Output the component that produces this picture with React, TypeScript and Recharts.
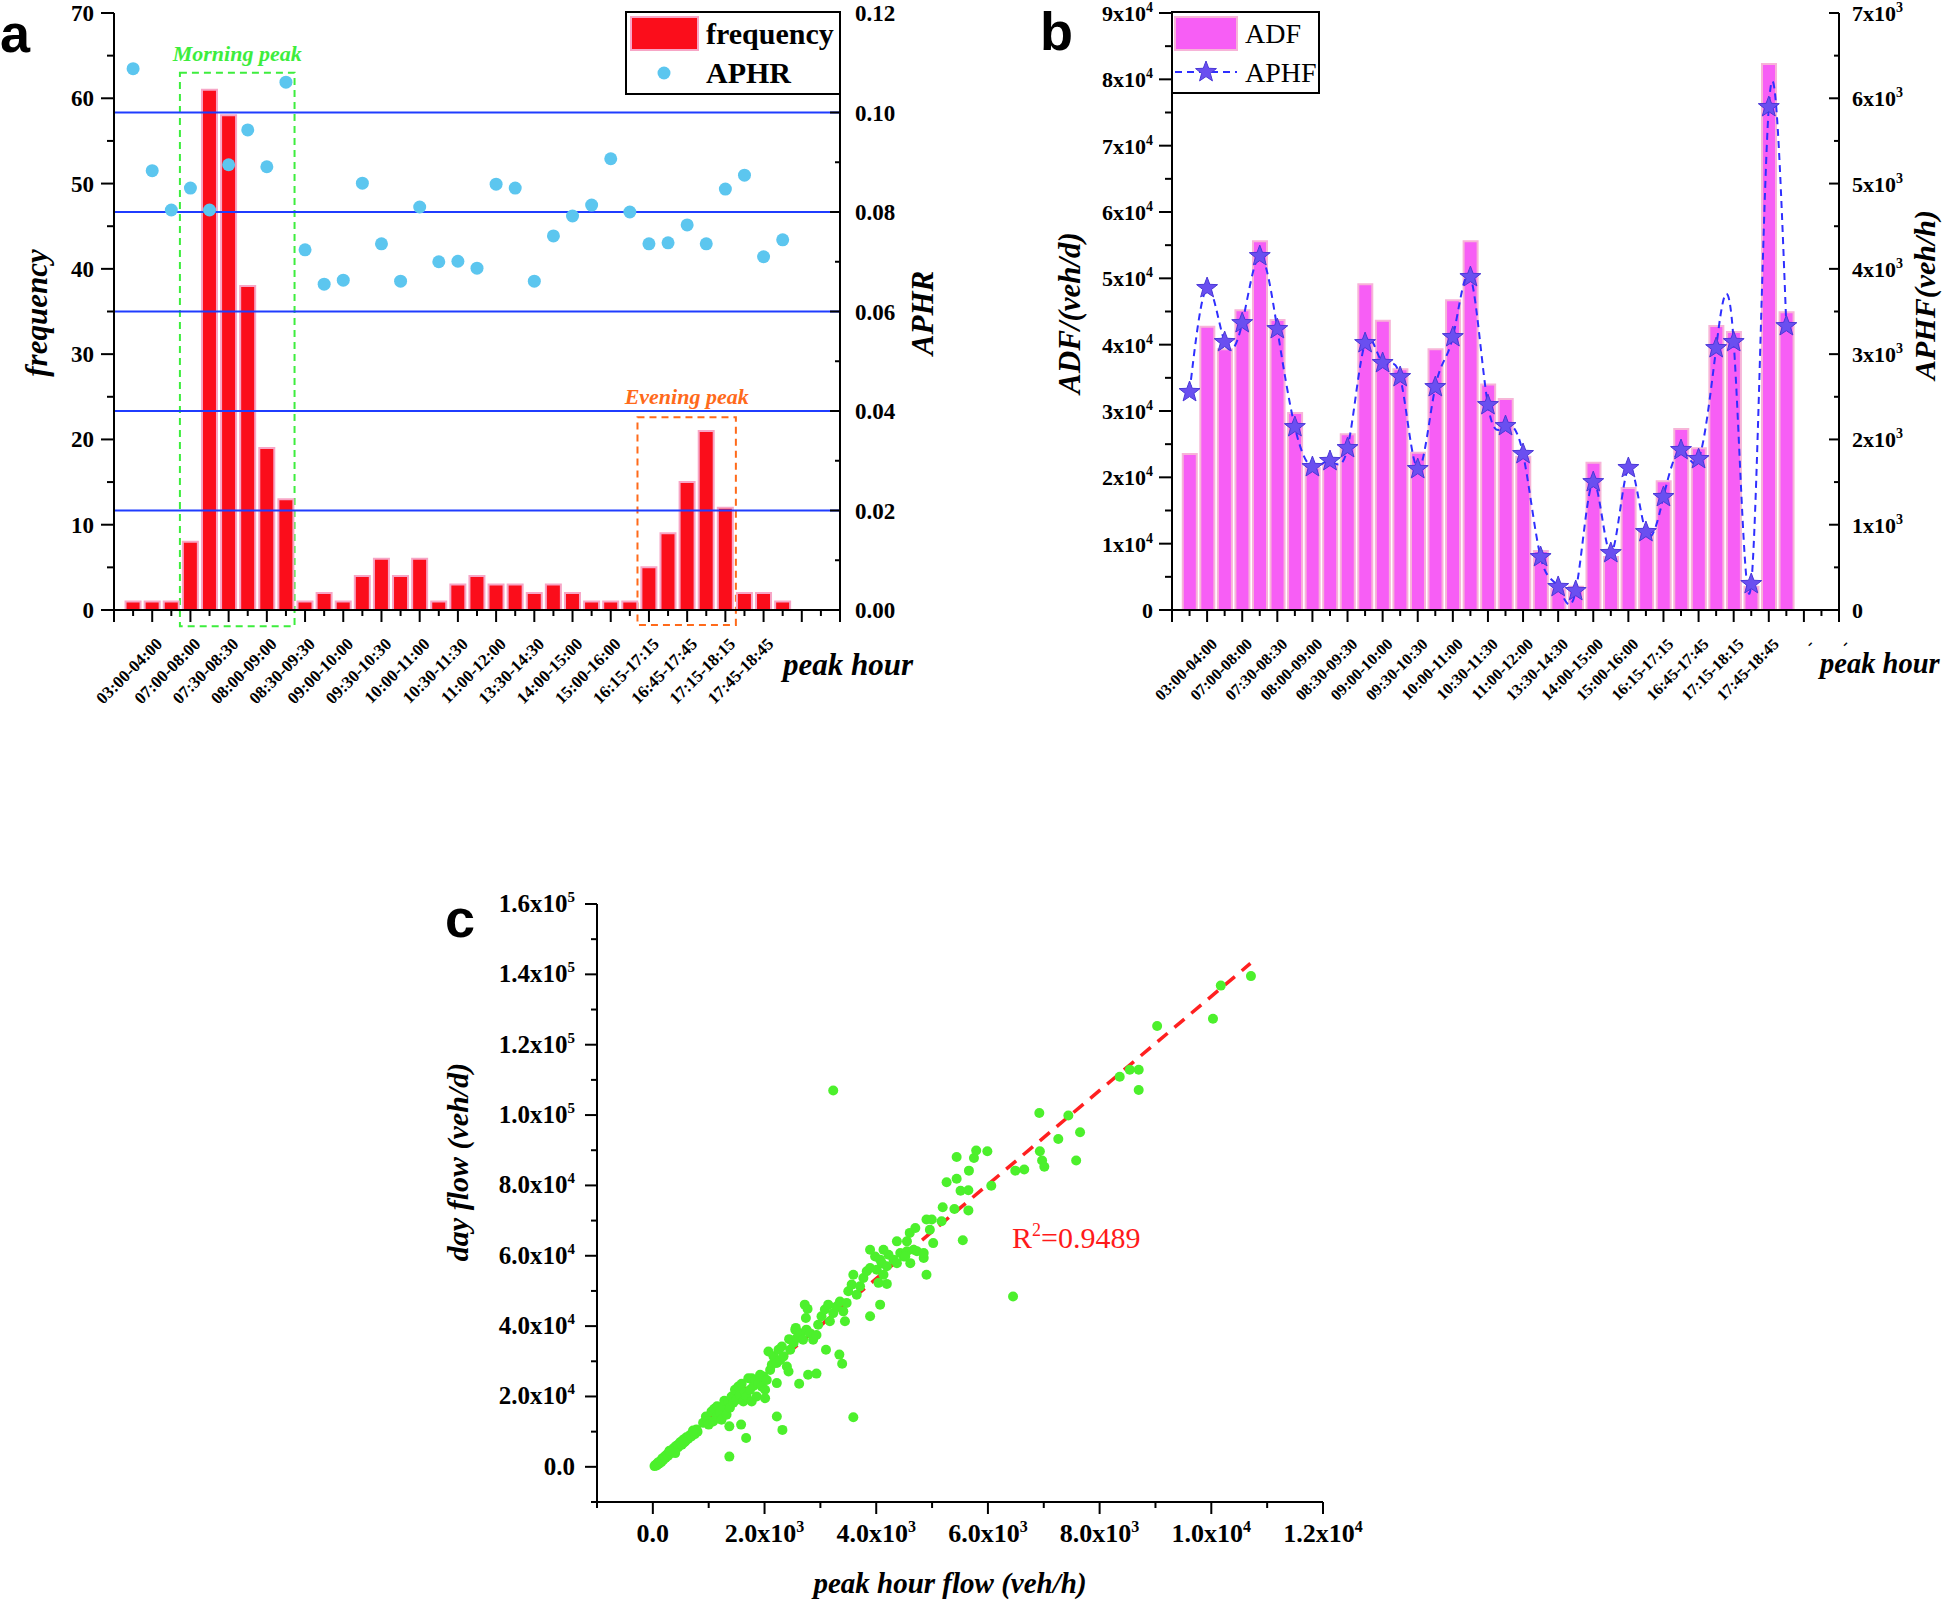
import React from 'react';
import {
  ComposedChart,
  ScatterChart,
  Bar,
  Line,
  Scatter,
  XAxis,
  YAxis,
  ReferenceLine,
  ReferenceArea,
} from 'recharts';

const SERIF = '"Liberation Serif", "Times New Roman", serif';
const SANS = '"Liberation Sans", Arial, sans-serif';

// peak hour categories, only every second slot carries a label on the axis
const peakHourLabels = [
  '03:00-04:00', '07:00-08:00', '07:30-08:30', '08:00-09:00', '08:30-09:30',
  '09:00-10:00', '09:30-10:30', '10:00-11:00', '10:30-11:30', '11:00-12:00',
  '13:30-14:30', '14:00-15:00', '15:00-16:00', '16:15-17:15', '16:45-17:45',
  '17:15-18:15', '17:45-18:45',
];
const peakHourLabelsB = [...peakHourLabels, '-', '-'];

// panel a
const frequency = [1, 1, 1, 8, 61, 58, 38, 19, 13, 1, 2, 1, 4, 6, 4, 6, 1, 3, 4, 3, 3, 2, 3, 2, 1, 1, 1, 5, 9, 15, 21, 12, 2, 2, 1];
const aphr = [
  0.1088, 0.0883, 0.0804, 0.0848, 0.0804, 0.0895, 0.0965, 0.0891, 0.1061, 0.0724,
  0.0655, 0.0663, 0.0858, 0.0736, 0.0661, 0.081, 0.07, 0.0701, 0.0687, 0.0856,
  0.0848, 0.0661, 0.0752, 0.0792, 0.0814, 0.0907, 0.08, 0.0736, 0.0738, 0.0774,
  0.0736, 0.0846, 0.0874, 0.071, 0.0744,
];
const aphrGridLines = [0.02, 0.04, 0.06, 0.08, 0.1];
const freqTicks = [0, 5, 10, 15, 20, 25, 30, 35, 40, 45, 50, 55, 60, 65, 70];
const aphrTicks = [0, 0.01, 0.02, 0.03, 0.04, 0.05, 0.06, 0.07, 0.08, 0.09, 0.1, 0.11, 0.12];

// panel b
const adf = [
  23500, 42700, 39300, 45200, 55600, 43700, 29700, 21400, 22100, 26500,
  49100, 43600, 36300, 23700, 39300, 46700, 55600, 34000, 31800, 23100,
  8900, 3200, 3500, 22200, 8000, 18400, 11800, 19400, 27300, 24400,
  42800, 41900, 3500, 82300, 44900,
];
const aphf = [
  2556, 3775, 3142, 3364, 4150, 3294, 2145, 1676, 1747, 1899,
  3130, 2896, 2732, 1653, 2614, 3200, 3904, 2403, 2157, 1829,
  621, 270, 223, 1500, 668, 1665, 914, 1325, 1876, 1770,
  3071, 3142, 305, 5897, 3329,
];
const adfTicks = [0, 5000, 10000, 15000, 20000, 25000, 30000, 35000, 40000, 45000, 50000, 55000, 60000, 65000, 70000, 75000, 80000, 85000, 90000];
const aphfTicks = [0, 500, 1000, 1500, 2000, 2500, 3000, 3500, 4000, 4500, 5000, 5500, 6000, 6500, 7000];

// panel c: [peak hour flow (veh/h), day flow (veh/d)]
const flowSamples: [number, number][] = [
  [30, 200], [50, 600], [70, 400], [90, 1200], [110, 900], [130, 1600], [150, 1300], [170, 2400],
  [190, 2000], [210, 2900], [230, 2600], [250, 3500], [270, 3100], [290, 4200], [310, 3800], [330, 4700],
  [350, 4300], [380, 5400], [400, 4900], [420, 6000], [450, 5500], [470, 6600], [500, 7100], [520, 6300],
  [550, 7800], [580, 7200], [600, 8400], [630, 7900], [660, 9000], [690, 8600], [720, 9900], [750, 9300],
  [780, 10600], [800, 10000], [720, 10300], [560, 6900], [400, 3900], [300, 4600],
  [900, 12500], [950, 14300], [980, 13000], [1000, 12000], [1050, 15700], [1080, 12900], [1100, 16500],
  [1140, 14300], [1150, 17200], [1200, 15300], [1230, 13400], [1260, 17200], [1280, 18800], [1320, 14800],
  [1350, 18600], [1380, 16800], [1410, 20000], [1440, 18200], [1470, 21900], [1500, 19100], [1530, 22800],
  [1560, 20400], [1590, 23600], [1620, 18600], [1650, 21200], [1680, 20000], [1710, 25200], [1740, 21900],
  [1770, 25200], [1770, 18600], [1800, 23000], [1830, 24700], [1860, 20000], [1890, 23800], [1920, 26200],
  [1950, 22800], [1980, 25700], [2010, 21900], [2010, 19500], [2040, 24700], [2070, 32800], [2100, 27500],
  [2130, 29000],
  [1370, 2900], [1370, 11500], [1580, 12000], [1670, 8200], [2220, 14300], [2320, 10500], [2220, 23800],
  [2620, 23600], [2780, 26200], [2930, 26500], [3100, 33300], [3340, 31900], [3390, 29300], [3590, 14100],
  [3230, 107000], [4900, 54600], [6450, 48400], [4070, 46100], [3890, 42800], [4190, 52000],
  [2160, 31400], [2220, 29500], [2250, 33300], [2280, 30400], [2310, 34200], [2340, 31400], [2400, 28500],
  [2430, 27100], [2440, 36300], [2460, 33300], [2520, 35200], [2550, 39000], [2560, 39500], [2580, 36600],
  [2640, 38000], [2690, 36100], [2720, 46100], [2740, 42300], [2750, 39000], [2770, 44900], [2810, 38000],
  [2870, 36100], [2930, 37500], [2960, 40400],
  [3020, 42800], [3080, 44700], [3140, 46100], [3170, 41400], [3230, 43700], [3290, 45600], [3350, 47000],
  [3410, 44200], [3440, 41400], [3470, 46600], [3500, 49900], [3560, 51800], [3590, 54600], [3650, 48900],
  [3710, 51300], [3770, 53700], [3830, 55600], [3890, 56500], [3980, 59800], [4010, 56000], [4040, 52300],
  [4100, 57900], [4130, 54600], [4190, 57000], [4220, 60300], [4310, 58900], [4430, 60800], [4370, 57900],
  [4490, 59800], [4550, 61300], [4610, 57900], [4670, 61700], [4730, 61300], [4850, 59400], [3890, 61700],
  [4130, 61700], [4370, 64100], [4600, 66500], [4700, 67900], [4900, 70300], [4850, 60800], [4070, 58900],
  [4995, 70300], [5170, 69800], [5020, 63600], [4960, 67400], [4550, 64100], [4520, 59800], [5190, 73800],
  [5400, 73300], [5650, 72900], [5550, 64400], [5260, 80900], [5440, 81900], [5510, 78500], [5650, 78600],
  [6060, 79900], [5440, 88100], [5750, 87800], [5790, 89900], [5990, 89700], [5660, 84200], [6490, 84200],
  [6650, 84500], [6930, 89700], [6970, 87100], [7010, 85300], [7580, 87100], [6920, 100600], [7440, 99900],
  [7650, 95100], [7260, 93200], [8360, 110900], [8540, 112900], [8700, 112900], [8700, 107100], [9030, 125300],
  [10030, 127400], [10170, 136800], [10710, 139500],
];
const fitLine = [
  { x: 0, y: 0 },
  { x: 10700, y: 143100 },
];
const flowXTicks = [-1000, 0, 1000, 2000, 3000, 4000, 5000, 6000, 7000, 8000, 9000, 10000, 11000, 12000];
const flowYTicks = [-10000, 0, 10000, 20000, 30000, 40000, 50000, 60000, 70000, 80000, 90000, 100000, 110000, 120000, 130000, 140000, 150000, 160000];

const slotTicks = Array.from({ length: 39 }, (_, i) => i);

const panelA = frequency.map((f, i) => ({ slot: i + 1, frequency: f, aphr: aphr[i] }));
const panelB = adf.map((v, i) => ({ slot: i + 1, adf: v, aphf: aphf[i] }));
const panelC = flowSamples.map(([x, y]) => ({ x, y }));

type Parts = [string, string | null];

const sci = (v: number): Parts => {
  if (v === 0) return ['0.0', null];
  const e = Math.floor(Math.log10(Math.abs(v)) + 1e-9);
  return [`${(v / 10 ** e).toFixed(1)}x10`, String(e)];
};

interface YTickOpts {
  side: 'left' | 'right';
  isMajor: (i: number) => boolean;
  label: (v: number) => Parts;
  fontSize: number;
  gap: number;
  dy: number;
  long: number;
  short: number;
  supSize?: number;
  supRise?: number;
}

const yTick = (o: YTickOpts) => (p: any) => {
  const { x, y, index } = p;
  const major = o.isMajor(index);
  const len = major ? o.long : o.short;
  const [base, sup] = o.label(p.payload.value);
  return (
    <g key={`yt-${index}`}>
      <line x1={x} y1={y} x2={x - len} y2={y} stroke="#000" strokeWidth={2} />
      {major && (
        <text
          x={o.side === 'left' ? x - o.gap : x + o.gap}
          y={y + o.dy}
          textAnchor={o.side === 'left' ? 'end' : 'start'}
          fontFamily={SERIF}
          fontWeight="bold"
          fontSize={o.fontSize}
          fill="#000"
        >
          {base}
          {sup && (
            <tspan dy={-(o.supRise ?? 9)} fontSize={o.supSize ?? 14}>
              {sup}
            </tspan>
          )}
        </text>
      )}
    </g>
  );
};

const slotTick = (labels: string[], fontSize: number) => (p: any) => {
  const v = p.payload.value as number;
  const major = v % 2 === 0;
  const lab = major && v > 0 ? labels[v / 2 - 1] : undefined;
  const ax = p.x + 11;
  const ay = p.y + 35;
  return (
    <g key={`st-${v}`}>
      <line x1={p.x} y1={p.y} x2={p.x} y2={p.y + (major ? 12 : 6)} stroke="#000" strokeWidth={2} />
      {lab && (
        <text
          x={ax}
          y={ay}
          transform={`rotate(-45 ${ax} ${ay})`}
          textAnchor="end"
          fontFamily={SERIF}
          fontWeight="bold"
          fontSize={fontSize}
          fill="#000"
        >
          {lab}
        </text>
      )}
    </g>
  );
};

const flowXTick = (p: any) => {
  const v = p.payload.value as number;
  const major = v % 2000 === 0;
  const [base, sup] = sci(v);
  return (
    <g key={`fx-${v}`}>
      <line x1={p.x} y1={p.y} x2={p.x} y2={p.y + (major ? 12 : 6)} stroke="#000" strokeWidth={2} />
      {major && (
        <text x={p.x} y={p.y + 40} textAnchor="middle" fontFamily={SERIF} fontWeight="bold" fontSize={26} fill="#000">
          {base}
          {sup && (
            <tspan dy={-10} fontSize={16}>
              {sup}
            </tspan>
          )}
        </text>
      )}
    </g>
  );
};

const starPoints = (cx: number, cy: number, R: number, r: number) => {
  const pts: string[] = [];
  for (let i = 0; i < 10; i++) {
    const a = -Math.PI / 2 + (i * Math.PI) / 5;
    const rad = i % 2 === 0 ? R : r;
    pts.push(`${cx + rad * Math.cos(a)},${cy + rad * Math.sin(a)}`);
  }
  return pts.join(' ');
};

const axisLine = { stroke: '#000', strokeWidth: 2 };
const boldItalic = { fontFamily: SERIF, fontWeight: 'bold' as const, fontStyle: 'italic' as const };

const App: React.FC = () => {
  return (
    <div
      style={{
        position: 'absolute',
        left: 0,
        top: 0,
        width: 1944,
        height: 1602,
        background: '#fff',
        overflow: 'hidden',
      }}
    >
      {/* a */}
      <div style={{ position: 'absolute', left: 0, top: 0 }}>
        <ComposedChart width={1000} height={720} data={panelA} margin={{ top: 13, right: 0, bottom: 0, left: 0 }}>
          <XAxis
            dataKey="slot"
            type="number"
            domain={[0, 38]}
            ticks={slotTicks}
            interval={0}
            height={110}
            tickSize={0}
            tickMargin={0}
            tickLine={false}
            axisLine={axisLine}
            tick={slotTick(peakHourLabels, 17)}
          />
          <YAxis
            yAxisId="left"
            type="number"
            domain={[0, 70]}
            ticks={freqTicks}
            interval={0}
            width={114}
            tickSize={0}
            tickMargin={0}
            tickLine={false}
            axisLine={axisLine}
            tick={yTick({ side: 'left', isMajor: (i) => i % 2 === 0, label: (v) => [String(v), null], fontSize: 23, gap: 20, dy: 8, long: 13, short: 7 })}
          />
          <YAxis
            yAxisId="right"
            orientation="right"
            type="number"
            domain={[0, 0.12]}
            ticks={aphrTicks}
            interval={0}
            width={160}
            tickSize={0}
            tickMargin={0}
            tickLine={false}
            axisLine={axisLine}
            tick={yTick({ side: 'right', isMajor: (i) => i % 2 === 0, label: (v) => [v.toFixed(2), null], fontSize: 23, gap: 15, dy: 8, long: 10, short: 5 })}
          />
          {aphrGridLines.map((v) => (
            <ReferenceLine key={v} yAxisId="right" y={v} stroke="#1f3cff" strokeWidth={2} />
          ))}
          <Bar yAxisId="left" dataKey="frequency" barSize={15} fill="#fb0d1b" stroke="#f7a6c6" strokeWidth={2} isAnimationActive={false} />
          <Scatter
            yAxisId="right"
            dataKey="aphr"
            isAnimationActive={false}
            shape={(p: any) => <circle cx={p.cx} cy={p.cy} r={6.5} fill="#5cc6ef" />}
          />
          <ReferenceArea
            yAxisId="left"
            x1={3.45}
            x2={9.45}
            y1={-1.9}
            y2={63}
            ifOverflow="visible"
            fill="none"
            stroke="#3ded3d"
            strokeWidth={2}
            strokeDasharray="7 5"
            label={{ value: 'Morning peak', position: 'top', offset: 12, fill: '#3ded3d', fontSize: 22, ...boldItalic }}
          />
          <ReferenceArea
            yAxisId="left"
            x1={27.4}
            x2={32.55}
            y1={-1.75}
            y2={22.6}
            ifOverflow="visible"
            fill="none"
            stroke="#ff6a1a"
            strokeWidth={2}
            strokeDasharray="7 5"
            label={{ value: 'Evening peak', position: 'top', offset: 13, fill: '#ff6a1a', fontSize: 22, ...boldItalic }}
          />
        </ComposedChart>
      </div>

      {/* b */}
      <div style={{ position: 'absolute', left: 1000, top: 0 }}>
        <ComposedChart width={944} height={720} data={panelB} margin={{ top: 13, right: 0, bottom: 0, left: 0 }}>
          <XAxis
            dataKey="slot"
            type="number"
            domain={[0, 38]}
            ticks={slotTicks}
            interval={0}
            height={110}
            tickSize={0}
            tickMargin={0}
            tickLine={false}
            axisLine={axisLine}
            tick={slotTick(peakHourLabelsB, 16)}
          />
          <YAxis
            yAxisId="left"
            type="number"
            domain={[0, 90000]}
            ticks={adfTicks}
            interval={0}
            width={172}
            tickSize={0}
            tickMargin={0}
            tickLine={false}
            axisLine={axisLine}
            tick={yTick({
              side: 'left',
              isMajor: (i) => i % 2 === 0,
              label: (v) => (v === 0 ? ['0', null] : [`${v / 10000}x10`, '4']),
              fontSize: 22,
              gap: 19,
              dy: 8,
              long: 13,
              short: 7,
              supSize: 14,
              supRise: 9,
            })}
          />
          <YAxis
            yAxisId="right"
            orientation="right"
            type="number"
            domain={[0, 7000]}
            ticks={aphfTicks}
            interval={0}
            width={105}
            tickSize={0}
            tickMargin={0}
            tickLine={false}
            axisLine={axisLine}
            tick={yTick({
              side: 'right',
              isMajor: (i) => i % 2 === 0,
              label: (v) => (v === 0 ? ['0', null] : [`${v / 1000}x10`, '3']),
              fontSize: 22,
              gap: 13,
              dy: 8,
              long: 10,
              short: 5,
              supSize: 14,
              supRise: 9,
            })}
          />
          <Bar yAxisId="left" dataKey="adf" barSize={14} fill="#f75ef5" stroke="#f7b4d8" strokeWidth={2} isAnimationActive={false} />
          <Line
            yAxisId="right"
            dataKey="aphf"
            type="natural"
            stroke="#2f2fff"
            strokeWidth={2}
            strokeDasharray="7 5"
            isAnimationActive={false}
            dot={(p: any) => (
              <polygon key={`s-${p.index}`} points={starPoints(p.cx, p.cy, 11, 4.6)} fill="#6a4ff0" stroke="#4a38d8" strokeWidth={1} />
            )}
          />
        </ComposedChart>
      </div>

      {/* c */}
      <div style={{ position: 'absolute', left: 420, top: 880 }}>
        <ScatterChart width={960} height={722} margin={{ top: 24, right: 57, bottom: 0, left: 0 }}>
          <XAxis
            dataKey="x"
            type="number"
            domain={[-1000, 12000]}
            ticks={flowXTicks}
            interval={0}
            height={100}
            tickSize={0}
            tickMargin={0}
            tickLine={false}
            axisLine={axisLine}
            tick={flowXTick}
          />
          <YAxis
            dataKey="y"
            type="number"
            domain={[-10000, 160000]}
            ticks={flowYTicks}
            interval={0}
            width={177}
            tickSize={0}
            tickMargin={0}
            tickLine={false}
            axisLine={axisLine}
            tick={yTick({ side: 'left', isMajor: (i) => i % 2 === 1, label: sci, fontSize: 25, gap: 22, dy: 8, long: 12, short: 6, supSize: 15, supRise: 10 })}
          />
          <Scatter
            data={panelC}
            isAnimationActive={false}
            shape={(p: any) => <circle cx={p.cx} cy={p.cy} r={5} fill="#4cf02c" />}
          />
          <ReferenceLine segment={fitLine} stroke="#ff2020" strokeWidth={3.5} strokeDasharray="13 9" ifOverflow="visible" />
        </ScatterChart>
      </div>

      {/* titles, legends, panel letters */}
      <svg width={1944} height={1602} style={{ position: 'absolute', left: 0, top: 0, pointerEvents: 'none' }}>
        <text x={0} y={52} fontFamily={SANS} fontWeight="bold" fontSize={54}>a</text>
        <text x={1040} y={50} fontFamily={SANS} fontWeight="bold" fontSize={54}>b</text>
        <text x={445} y={937} fontFamily={SANS} fontWeight="bold" fontSize={54}>c</text>

        <text transform="translate(47 313) rotate(-90)" textAnchor="middle" fontSize={31} {...boldItalic}>frequency</text>
        <text transform="translate(933 313) rotate(-90)" textAnchor="middle" fontSize={31} {...boldItalic}>APHR</text>
        <text x={783} y={675} fontSize={31} {...boldItalic}>peak hour</text>

        <rect x={626} y={12} width={214} height={82} fill="#fff" stroke="#000" strokeWidth={2} />
        <rect x={631} y={17} width={67} height={33} fill="#fb0d1b" stroke="#f7a6c6" strokeWidth={2} />
        <circle cx={664} cy={73} r={6.5} fill="#5cc6ef" />
        <text x={706} y={44} fontFamily={SERIF} fontWeight="bold" fontSize={30}>frequency</text>
        <text x={706} y={83} fontFamily={SERIF} fontWeight="bold" fontSize={30}>APHR</text>

        <text transform="translate(1080 313) rotate(-90)" textAnchor="middle" fontSize={31} {...boldItalic}>ADF/(veh/d)</text>
        <text transform="translate(1935 295) rotate(-90)" textAnchor="middle" fontSize={30} {...boldItalic}>APHF(veh/h)</text>
        <text x={1820} y={673} fontSize={28.5} {...boldItalic}>peak hour</text>

        <rect x={1172} y={12} width={147} height={81} fill="#fff" stroke="#000" strokeWidth={2} />
        <rect x={1175} y={17} width={62} height={33} fill="#f75ef5" stroke="#f7b4d8" strokeWidth={2} />
        <line x1={1175} y1={72} x2={1237} y2={72} stroke="#2f2fff" strokeWidth={2} strokeDasharray="7 5" />
        <polygon points={starPoints(1206, 72, 11, 4.6)} fill="#6a4ff0" stroke="#4a38d8" strokeWidth={1} />
        <text x={1245} y={43} fontFamily={SERIF} fontSize={28}>ADF</text>
        <text x={1245} y={82} fontFamily={SERIF} fontSize={28}>APHF</text>

        <text transform="translate(468 1162) rotate(-90)" textAnchor="middle" fontSize={30} {...boldItalic}>day flow (veh/d)</text>
        <text x={950} y={1593} textAnchor="middle" fontSize={29} {...boldItalic}>peak hour flow (veh/h)</text>
        <text x={1012} y={1248} fontFamily={SERIF} fontSize={30} fill="#ff1a1a">
          R<tspan dy={-12} fontSize={18}>2</tspan>
          <tspan dy={12}>=0.9489</tspan>
        </text>
      </svg>
    </div>
  );
};

export default App;
